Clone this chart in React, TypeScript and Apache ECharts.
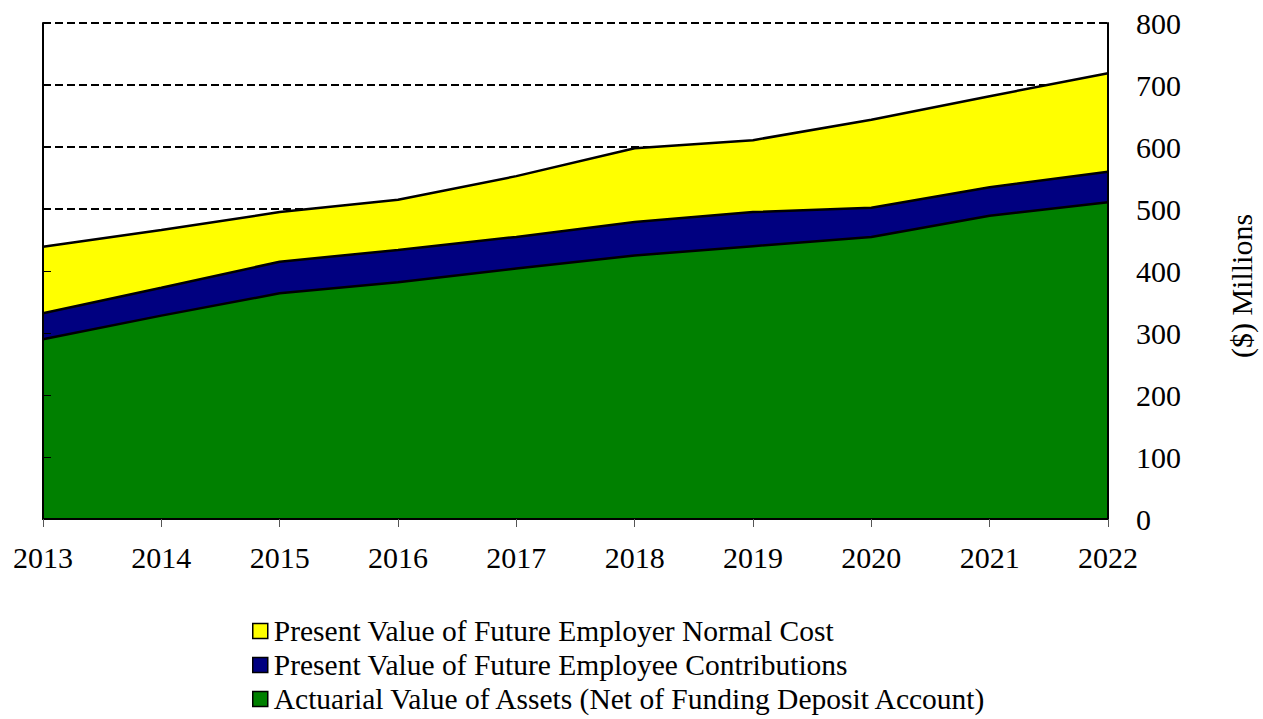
import React, { useEffect, useRef } from "react";
import * as echarts from "echarts";

const years = ["2013", "2014", "2015", "2016", "2017", "2018", "2019", "2020", "2021", "2022"];
// Stacked components ($ millions)
const assets = [290, 328, 364, 382, 404, 425, 440, 455, 489, 511];
const employeeContrib = [42, 45, 51, 52, 51, 54, 55, 47, 46, 49];
const employerNormalCost = [107, 93, 80, 81, 98, 119, 116, 142, 147, 159];
const yTicks = { min: 0, max: 800, interval: 100 };

const nameAssets = "Actuarial Value of Assets (Net of Funding Deposit Account)";
const nameEmployee = "Present Value of Future Employee Contributions";
const nameEmployer = "Present Value of Future Employer Normal Cost";

const FONT = "Liberation Serif";

export default function App() {
  const ref = useRef<HTMLDivElement>(null);
  useEffect(() => {
    if (!ref.current) return;
    const chart = echarts.init(ref.current, undefined, { renderer: "svg" });
    const mkSeries = (name: string, data: number[], color: string) => ({
      name,
      type: "line",
      stack: "total",
      data,
      symbol: "none",
      yAxisIndex: 0,
      lineStyle: { color: "#000", width: 2.5 },
      itemStyle: { color, borderColor: "#000", borderWidth: 1.5 },
      areaStyle: { color, opacity: 1 },
      z: 2,
    });
    chart.setOption({
      animation: false,
      textStyle: { fontFamily: FONT },
      grid: { left: 43, right: 155, top: 23, bottom: 200, containLabel: false },
      legend: {
        orient: "vertical",
        left: 252,
        top: 616,
        padding: 0,
        itemWidth: 15,
        itemHeight: 15,
        itemGap: 4,
        icon: "rect",
        data: [nameEmployer, nameEmployee, nameAssets],
        itemStyle: { borderColor: "#000", borderWidth: 1.5 },
        textStyle: { fontFamily: FONT, fontSize: 29.5, color: "#000", lineHeight: 29, padding: [0, 0, 0, 1] },
      },
      xAxis: {
        type: "category",
        data: years,
        boundaryGap: false,
        axisLine: { show: true, lineStyle: { color: "#000", width: 2 } },
        axisTick: { show: true, inside: false, length: 8, lineStyle: { color: "#555", width: 1 } },
        axisLabel: { color: "#000", fontSize: 30, fontFamily: FONT, margin: 23 },
        splitLine: { show: false },
        z: 5,
      },
      yAxis: [
        {
          type: "value",
          position: "right",
          ...yTicks,
          axisLine: { show: false },
          axisTick: { show: false },
          axisLabel: { color: "#000", fontSize: 30, fontFamily: FONT, margin: 28 },
          splitLine: { show: true, lineStyle: { color: "#000", type: [8, 4], width: 2 } },
          z: 0,
        },
        {
          type: "value",
          position: "left",
          ...yTicks,
          axisLine: { show: true, lineStyle: { color: "#000", width: 2 } },
          axisTick: { show: true, inside: true, length: 8, lineStyle: { color: "#000", width: 1 } },
          axisLabel: { show: false },
          splitLine: { show: false },
          z: 5,
        },
        {
          type: "value",
          position: "right",
          offset: 0,
          ...yTicks,
          axisLine: { show: true, lineStyle: { color: "#000", width: 2 } },
          axisTick: { show: false },
          axisLabel: { show: false },
          splitLine: { show: false },
          z: 5,
        },
      ],
      graphic: [
        {
          type: "text",
          x: 1241,
          y: 286,
          rotation: Math.PI / 2,
          style: {
            text: "($) Millions",
            fontFamily: FONT,
            fontSize: 30,
            fill: "#000",
            align: "center",
            verticalAlign: "middle",
          },
        },
      ],
      series: [
        mkSeries(nameAssets, assets, "#008000"),
        mkSeries(nameEmployee, employeeContrib, "#000080"),
        mkSeries(nameEmployer, employerNormalCost, "#FFFF00"),
      ],
    });
    return () => chart.dispose();
  }, []);
  return <div ref={ref} style={{ width: 1263, height: 719, position: "absolute", left: 0, top: 0 }} />;
}
